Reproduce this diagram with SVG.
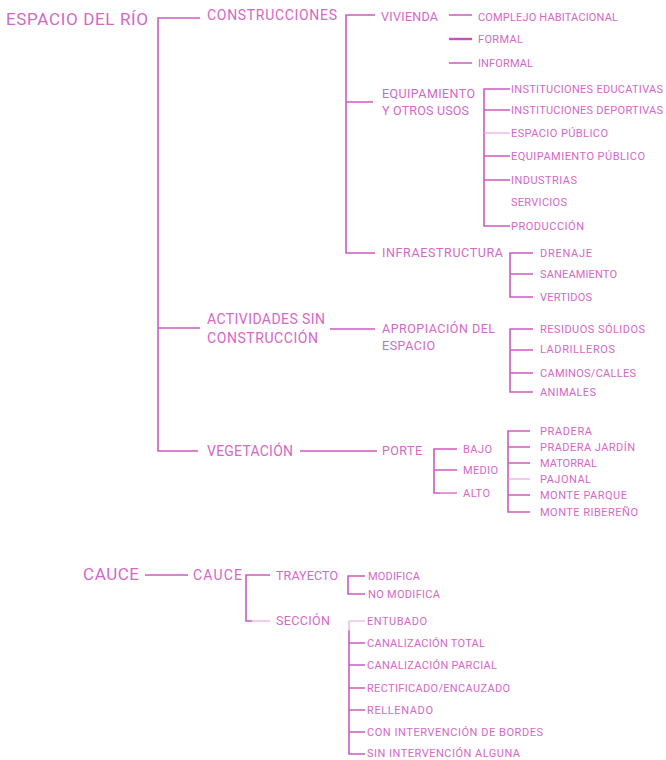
<svg xmlns="http://www.w3.org/2000/svg" width="666" height="760" viewBox="0 0 666 760">
<style>
text{font-family:Roboto,"Liberation Sans",sans-serif;fill:#d468c6}
.t1{font-size:17px}
.t2{font-size:14px}
.t3{font-size:12.5px}
.t4{font-size:11px}
.ln{stroke:#cf5abf;stroke-width:1.6;fill:none}
.lt{stroke:#e8a8df;stroke-width:1.2;fill:none}
.lb{stroke:#cc4fbd;stroke-width:2.4;fill:none}
</style>
<rect width="666" height="760" fill="#fff"/>
<g id="connectors">
<path class="ln" d="M200 18H158V451H198M158 328H200"/>
<path class="ln" d="M375 15H346V253H375M346 102H373"/>
<path class="ln" d="M449 15H472M449 63H472"/>
<path class="lb" d="M449 39H472"/>
<path class="ln" d="M510 89H484V226H510M484 110H510M484 156H510M484 180H510"/>
<path class="lt" d="M484 133H510"/>
<path class="ln" d="M533 253H510V297H533M510 274H533"/>
<path class="ln" d="M330 329H375"/>
<path class="ln" d="M533 329H510V392H533M510 350H533M510 373H533"/>
<path class="ln" d="M300 451H377"/>
<path class="ln" d="M457 493H434V449H457M434 470H457"/>
<path class="lt" d="M440 493H457"/>
<path class="ln" d="M530 431H508V512H530M508 447H530M508 463H530M508 495H530"/>
<path class="lt" d="M508 479H530"/>
<path class="ln" d="M145 575H188"/>
<path class="ln" d="M270 575H246V621H252"/>
<path class="lt" d="M252 621H270"/>
<path class="ln" d="M365 576H348V594H365"/>
<path class="ln" d="M349 630V754H365M349 643H365M349 665H365M349 688H365M349 710H365M349 732H365"/>
<path class="lt" d="M349 621H365M349 621V631"/>
</g>
<g id="espacio-del-rio"><text class="t1" x="6" y="25" textLength="142">ESPACIO DEL RÍO</text></g>
<g id="construcciones"><text class="t2" x="207" y="20" textLength="130">CONSTRUCCIONES</text></g>
<g id="vivienda"><text class="t3" x="381" y="21" textLength="57">VIVIENDA</text></g>
<g id="complejo-habitacional"><text class="t4" x="478" y="21" textLength="140">COMPLEJO HABITACIONAL</text></g>
<g id="formal"><text class="t4" x="478" y="43" textLength="45">FORMAL</text></g>
<g id="informal"><text class="t4" x="478" y="67" textLength="55">INFORMAL</text></g>
<g id="equipamiento"><text class="t3" x="382" y="98" textLength="93">EQUIPAMIENTO</text><text class="t3" x="382" y="115" textLength="87">Y OTROS USOS</text></g>
<g id="inst-educativas"><text class="t4" x="511" y="93" textLength="152">INSTITUCIONES EDUCATIVAS</text></g>
<g id="inst-deportivas"><text class="t4" x="511" y="114" textLength="152">INSTITUCIONES DEPORTIVAS</text></g>
<g id="espacio-publico"><text class="t4" x="511" y="137" textLength="97">ESPACIO PÚBLICO</text></g>
<g id="equipamiento-publico"><text class="t4" x="511" y="160" textLength="134">EQUIPAMIENTO PÚBLICO</text></g>
<g id="industrias"><text class="t4" x="511" y="184" textLength="66">INDUSTRIAS</text></g>
<g id="servicios"><text class="t4" x="511" y="206" textLength="56">SERVICIOS</text></g>
<g id="produccion"><text class="t4" x="511" y="230" textLength="73">PRODUCCIÓN</text></g>
<g id="infraestructura"><text class="t3" x="382" y="257" textLength="121">INFRAESTRUCTURA</text></g>
<g id="drenaje"><text class="t4" x="540" y="257" textLength="52">DRENAJE</text></g>
<g id="saneamiento"><text class="t4" x="540" y="278" textLength="77">SANEAMIENTO</text></g>
<g id="vertidos"><text class="t4" x="540" y="301" textLength="52">VERTIDOS</text></g>
<g id="actividades"><text class="t2" x="207" y="324" textLength="118">ACTIVIDADES SIN</text><text class="t2" x="207" y="343" textLength="111">CONSTRUCCIÓN</text></g>
<g id="apropiacion"><text class="t3" x="382" y="333" textLength="113">APROPIACIÓN DEL</text><text class="t3" x="382" y="350" textLength="53">ESPACIO</text></g>
<g id="residuos"><text class="t4" x="540" y="333" textLength="105">RESIDUOS SÓLIDOS</text></g>
<g id="ladrilleros"><text class="t4" x="540" y="353" textLength="75">LADRILLEROS</text></g>
<g id="caminos"><text class="t4" x="540" y="377" textLength="96">CAMINOS/CALLES</text></g>
<g id="animales"><text class="t4" x="540" y="396" textLength="56">ANIMALES</text></g>
<g id="vegetacion"><text class="t2" x="207" y="456" textLength="86">VEGETACIÓN</text></g>
<g id="porte"><text class="t3" x="382" y="455" textLength="40">PORTE</text></g>
<g id="bajo"><text class="t4" x="463" y="453" textLength="29">BAJO</text></g>
<g id="medio"><text class="t4" x="463" y="474" textLength="35">MEDIO</text></g>
<g id="alto"><text class="t4" x="463" y="497" textLength="27">ALTO</text></g>
<g id="pradera"><text class="t4" x="540" y="435" textLength="52">PRADERA</text></g>
<g id="pradera-jardin"><text class="t4" x="540" y="451" textLength="95">PRADERA JARDÍN</text></g>
<g id="matorral"><text class="t4" x="540" y="467">MATORRAL</text></g>
<g id="pajonal"><text class="t4" x="540" y="483" textLength="51">PAJONAL</text></g>
<g id="monte-parque"><text class="t4" x="540" y="499" textLength="87">MONTE PARQUE</text></g>
<g id="monte-ribereno"><text class="t4" x="540" y="516" textLength="98">MONTE RIBEREÑO</text></g>
<g id="cauce"><text class="t1" x="83" y="580" textLength="56">CAUCE</text></g>
<g id="cauce-2"><text class="t2" x="193" y="580" textLength="49">CAUCE</text></g>
<g id="trayecto"><text class="t3" x="276" y="580" textLength="62">TRAYECTO</text></g>
<g id="seccion"><text class="t3" x="276" y="625" textLength="54">SECCIÓN</text></g>
<g id="modifica"><text class="t4" x="368" y="580" textLength="52">MODIFICA</text></g>
<g id="no-modifica"><text class="t4" x="368" y="598" textLength="72">NO MODIFICA</text></g>
<g id="entubado"><text class="t4" x="367" y="625" textLength="60">ENTUBADO</text></g>
<g id="canalizacion-total"><text class="t4" x="367" y="647" textLength="118">CANALIZACIÓN TOTAL</text></g>
<g id="canalizacion-parcial"><text class="t4" x="367" y="669" textLength="130">CANALIZACIÓN PARCIAL</text></g>
<g id="rectificado"><text class="t4" x="367" y="692" textLength="143">RECTIFICADO/ENCAUZADO</text></g>
<g id="rellenado"><text class="t4" x="367" y="714" textLength="66">RELLENADO</text></g>
<g id="con-intervencion"><text class="t4" x="367" y="736" textLength="176">CON INTERVENCIÓN DE BORDES</text></g>
<g id="sin-intervencion"><text class="t4" x="367" y="757" textLength="153">SIN INTERVENCIÓN ALGUNA</text></g>
</svg>
